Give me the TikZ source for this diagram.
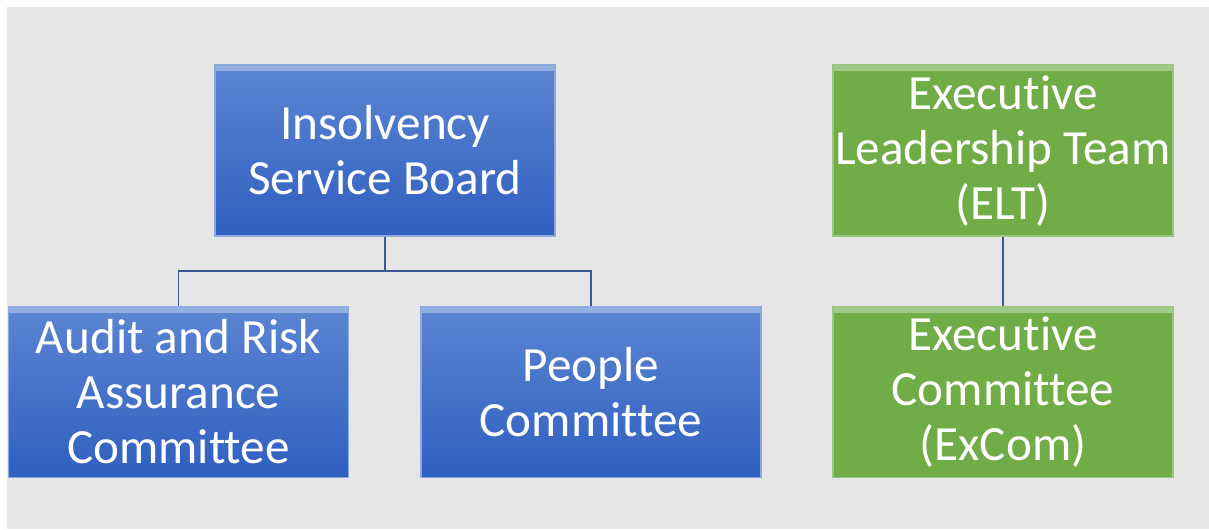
\documentclass[tikz,border=0pt]{standalone}
\usepackage{fontspec}
\setmainfont{Carlito}[Ligatures={NoCommon}]
\definecolor{slidegrey}{HTML}{E7E6E6}
\definecolor{boardtop}{HTML}{5C85D2}
\definecolor{boardbottom}{HTML}{2F5FC0}
\definecolor{execgreen}{HTML}{70AD47}
\definecolor{linkblue}{HTML}{3A5A94}
\begin{document}
\begin{tikzpicture}
\tikzset{BoardStyle/.style = {shape=rectangle, minimum width=6.8cm, minimum height=3.42cm,
	top color=boardtop, bottom color=boardbottom, draw=boardtop!70!white, line width=0.8pt,
	text=white, align=center, font=\fontsize{28}{31.3}\selectfont, inner sep=0pt,
	path picture={\fill[white, opacity=0.35] (path picture bounding box.north west)
		rectangle ([yshift=-0.12cm]path picture bounding box.north east);}}}
\tikzset{ExecStyle/.style = {BoardStyle, top color=execgreen, bottom color=execgreen,
	draw=execgreen!70!white}}
\tikzset{EdgeStyle/.style = {draw=linkblue, line width=1pt}}

\useasboundingbox (0,0) rectangle (24.18,10.58);
\fill[slidegrey] (0.14,0) rectangle (24.18,10.44);

\node[BoardStyle] (isb) at (7.70,7.57) {Insolvency\\Service Board};
	\node[BoardStyle] (arac) at (3.57,2.74) {Audit and Risk\\Assurance\\Committee};
	\node[BoardStyle] (people) at (11.82,2.74) {People\\Committee};

\node[ExecStyle] (elt) at (20.06,7.57) {Executive\\Leadership Team\\(ELT)};
	\node[ExecStyle] (excom) at (20.06,2.74) {Executive\\Committee\\(ExCom)};

\coordinate (split) at (7.70,5.16);
\draw[EdgeStyle] (isb.south) -- (split);
\draw[EdgeStyle] (split) -| (arac.north);
\draw[EdgeStyle] (split) -| (people.north);
\draw[EdgeStyle] (elt) -- (excom);
\end{tikzpicture}
\end{document}
